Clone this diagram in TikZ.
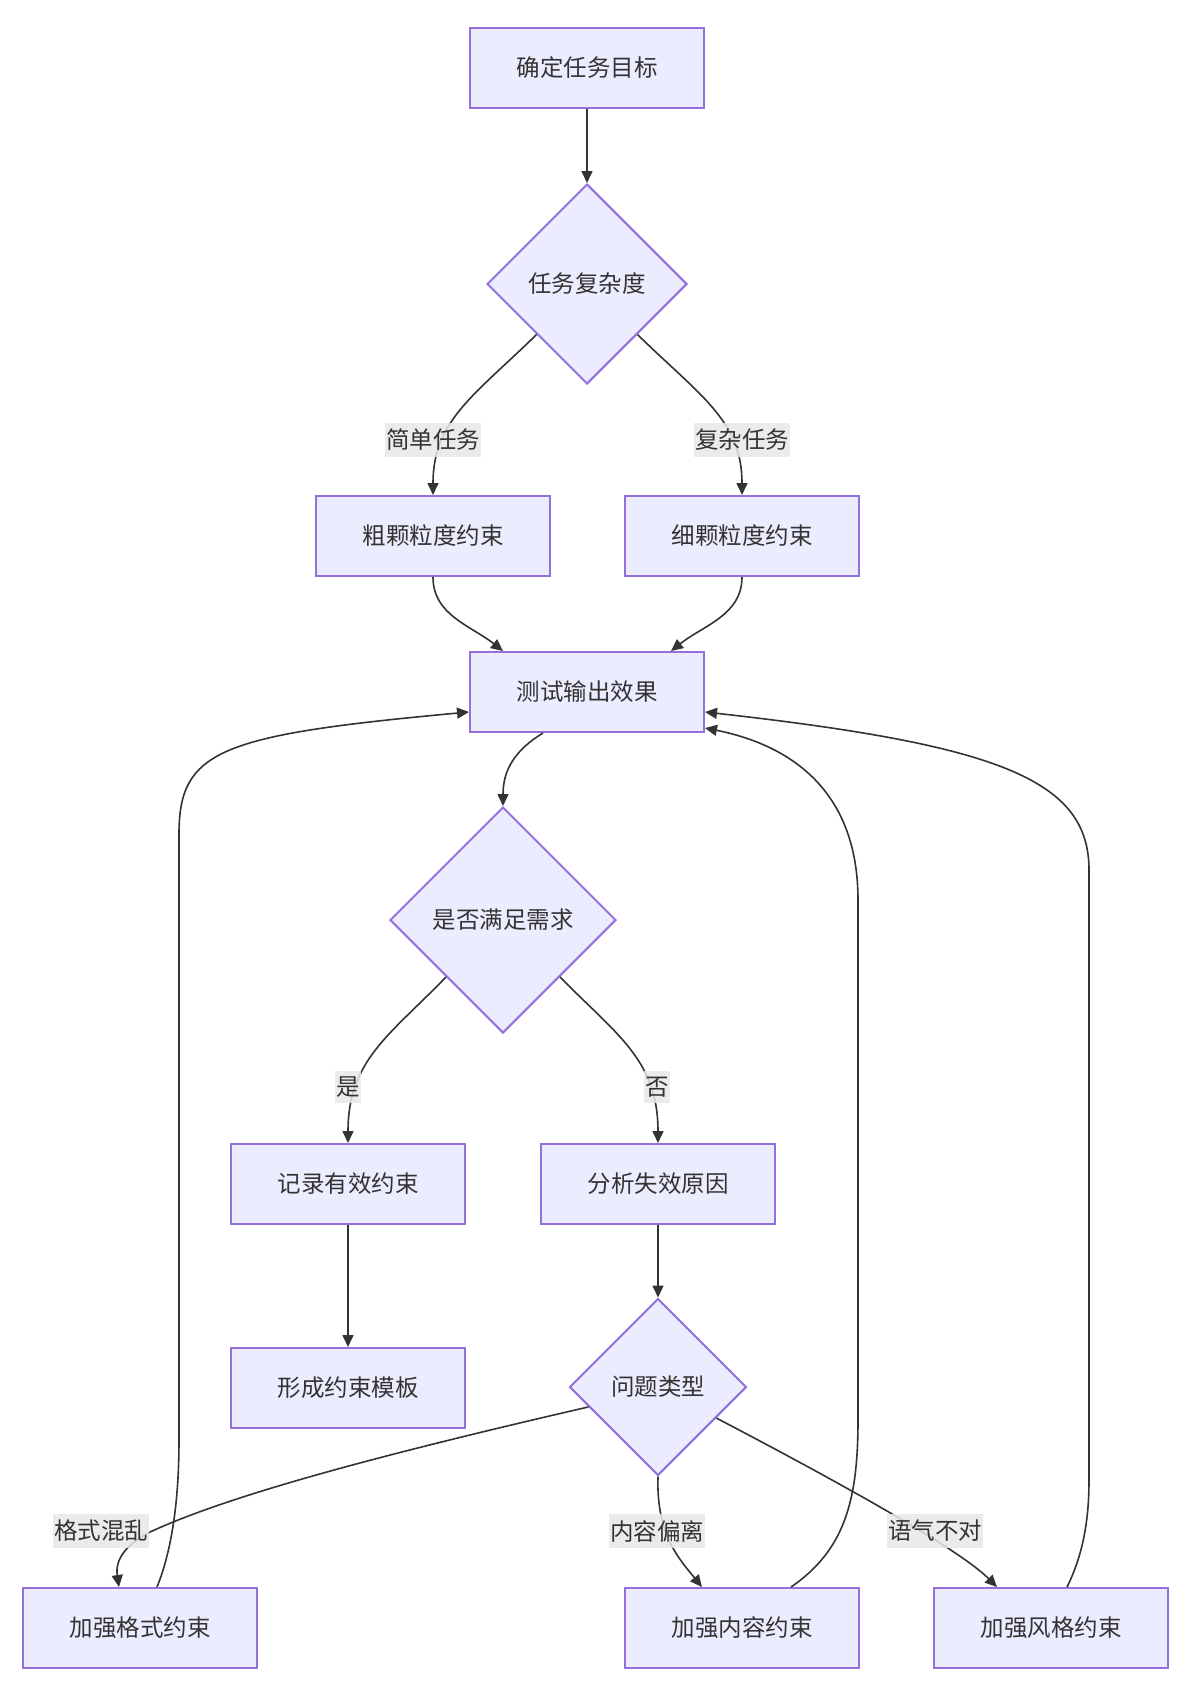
\documentclass[tikz,border=0pt]{standalone}
\usepackage{fontspec}
\newfontfamily\cjk{Noto Sans CJK SC}
\usetikzlibrary{shapes.geometric, arrows.meta}
\usetikzlibrary{calc}
\usepackage{xcolor}
\definecolor{boxfill}{HTML}{ECECFF}
\definecolor{boxline}{HTML}{9370DB}
\definecolor{edgecol}{HTML}{333333}
\definecolor{lblfill}{HTML}{E8E8E8}

\begin{document}
\begin{tikzpicture}[x=1pt, y=-1pt, text=edgecol,
    font=\cjk\fontsize{23.5}{28}\selectfont,
    box/.style={draw=boxline, fill=boxfill, line width=2pt, minimum width=234pt, minimum height=80pt, inner sep=0pt},
    decision/.style={diamond, aspect=1, draw=boxline, fill=boxfill, line width=2pt, inner sep=0pt},
    edge/.style={draw=edgecol, line width=1.6pt, -{Triangle[length=12pt, width=11pt]}},
    lbl/.style={fill=lblfill, fill opacity=0.85, text opacity=1, inner xsep=1pt, inner ysep=6pt}]
        \useasboundingbox (0,0) rectangle (1178,1700);
        % 节点
        \node[box] (goal) at (587,68) {确定任务目标};
        \node[decision, minimum size=200pt] (cplx) at (587,284) {任务复杂度};
        \node[box] (coarse) at (433,536) {粗颗粒度约束};
        \node[box] (fine) at (742,536) {细颗粒度约束};
        \node[box] (test) at (587,692) {测试输出效果};
        \node[decision, minimum size=226pt] (meet) at (503,920) {是否满足需求};
        \node[box] (record) at (348,1184) {记录有效约束};
        \node[box] (analyse) at (658,1184) {分析失效原因};
        \node[box] (tmpl) at (348,1388) {形成约束模板};
        \node[decision, minimum size=177pt] (kind) at (658,1387) {问题类型};
        \node[box] (fmt) at (140,1628) {加强格式约束};
        \node[box] (cont) at (742,1628) {加强内容约束};
        \node[box] (tone) at (1051,1628) {加强风格约束};
        % 上半部分的连线
        \draw[edge] (goal) -- (cplx);
        \draw[edge] (cplx.south west) .. controls (475,395) and (433,420) .. (coarse.north);
        \draw[edge] (cplx.south east) .. controls (699,395) and (742,420) .. (fine.north);
        \draw[edge] (coarse.south) .. controls (433,615) and (470,625) .. ($(test.north)+(-84,0)$);
        \draw[edge] (fine.south) .. controls (742,615) and (704,625) .. ($(test.north)+(84,0)$);
        \draw[edge] ($(test.south)+(-44,0)$) .. controls (515,750) and (503,770) .. (meet.north);
        % 判断之后
        \draw[edge] (meet.south west) .. controls (390,1035) and (348,1060) .. (record.north);
        \draw[edge] (meet.south east) .. controls (617,1035) and (658,1060) .. (analyse.north);
        \draw[edge] (record) -- (tmpl);
        \draw[edge] (analyse) -- (kind);
        % 问题类型的三个分支
        \draw[edge] (kind.196) .. controls (380,1455) and (230,1495) .. (150,1532)
            .. controls (125,1545) and (115,1560) .. ($(fmt.north)+(-21,0)$);
        \draw[edge] (kind.south) .. controls (656,1535) and (680,1560) .. ($(cont.north)+(-40,0)$);
        \draw[edge] (kind.-28) .. controls (850,1488) and (960,1550) .. ($(tone.north)+(-54,0)$);
        % 回到测试
        \draw[edge] ($(fmt.north)+(17,0)$) .. controls (172,1550) and (179,1500) .. (179,1440)
            -- (179,834) .. controls (179,750) and (220,735) .. ($(test.west)+(0,20)$);
        \draw[edge] ($(cont.north)+(49,0)$) .. controls (845,1550) and (858,1500) .. (858,1420)
            -- (858,900) .. controls (858,790) and (790,745) .. ($(test.east)+(0,36)$);
        \draw[edge] ($(tone.north)+(16,0)$) .. controls (1083,1555) and (1089,1520) .. (1089,1480)
            -- (1089,870) .. controls (1089,780) and (1000,745) .. ($(test.east)+(0,20)$);
        % 连线上的文字
        \node[lbl] (lsimple) at (433,440) {简单任务};
        \node[lbl] (lhard) at (742,440) {复杂任务};
        \node[lbl] (lyes) at (348,1087) {是};
        \node[lbl] (lno) at (657,1087) {否};
        \node[lbl] (lfmt) at (101,1531) {格式混乱};
        \node[lbl] (lcont) at (657,1531) {内容偏离};
        \node[lbl] (ltone) at (935,1531) {语气不对};
    \end{tikzpicture}
\end{document}
